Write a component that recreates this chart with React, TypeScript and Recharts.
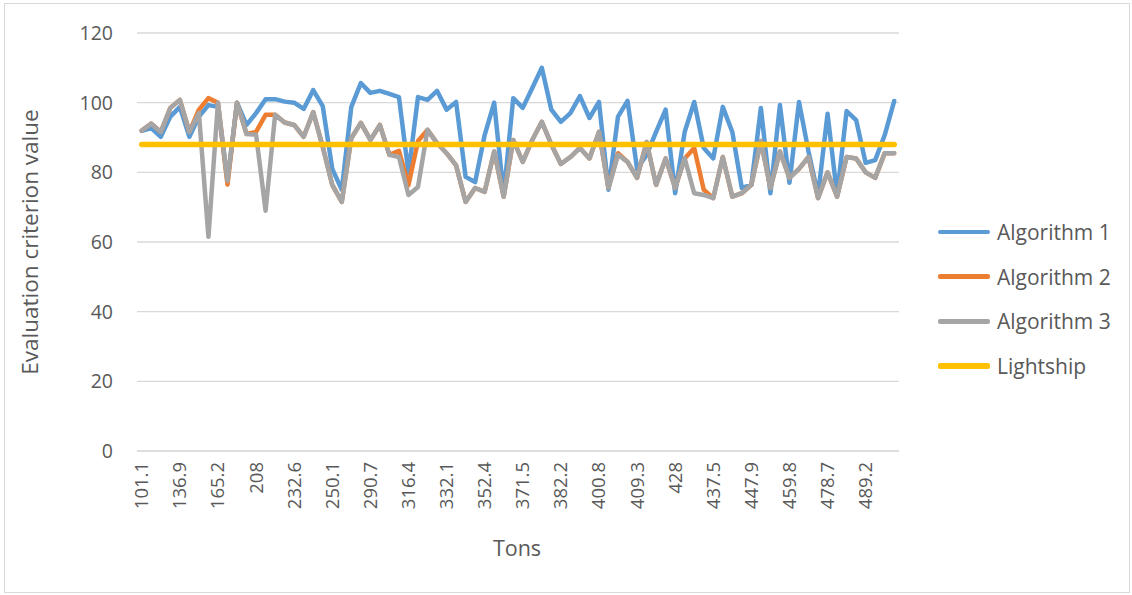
import { LineChart, Line, XAxis, YAxis, CartesianGrid } from "recharts";

// every 4th category label on the Tons axis
const tonLabels = [
  "101.1", "136.9", "165.2", "208", "232.6", "250.1", "290.7", "316.4", "332.1", "352.4",
  "371.5", "382.2", "400.8", "409.3", "428", "437.5", "447.9", "459.8", "478.7", "489.2",
];

const algorithm1 = [
  91.9, 92.7, 90.2, 96, 98.8, 90.2, 96, 99.3, 98.8, 77.5,
  100, 93.6, 97, 101, 101, 100.3, 100, 98.2, 103.6, 99,
  81, 75, 98.8, 105.6, 102.8, 103.4, 102.5, 101.6, 79.8, 101.6,
  100.8, 103.4, 98, 100.2, 78.7, 77.2, 90.7, 100, 73.5, 101.3,
  98.5, 104.2, 110, 98, 94.5, 97, 101.9, 95.6, 100.2, 75,
  96, 100.5, 81, 85, 91.6, 98, 74, 91.6, 100.2, 87,
  84, 98.8, 91.6, 75.5, 76.4, 98.5, 74, 99.3, 77, 100.2,
  86, 73.5, 96.8, 73.5, 97.6, 95, 82.7, 83.5, 90.7, 100.5,
];

const algorithm2 = [
  92, 94, 91.6, 98.5, 100.8, 91.6, 98, 101.3, 100, 76.5,
  100, 91, 91.6, 96.5, 96.5, 94.3, 93.6, 90.2, 97.3, 87.3,
  76.4, 71.5, 89.8, 94.2, 89.3, 93.6, 85, 86.2, 76.3, 89,
  92.2, 88.4, 85.5, 82, 71.5, 75.5, 74.4, 86, 73, 89.3,
  83, 89.3, 94.5, 88, 82.4, 84.4, 87, 84, 91.6, 75.5,
  85.5, 83, 78.4, 88.7, 76.4, 84, 75.5, 84, 87, 75,
  72.6, 84.4, 73, 74, 76.4, 89, 75.5, 86, 78.4, 81,
  84.4, 72.6, 80, 73, 84.4, 84, 80, 78.4, 85.5, 85.5,
];

const algorithm3 = [
  92, 94, 91.6, 98.5, 100.8, 91.6, 97, 61.5, 100, 77.5,
  100, 91, 90.8, 69, 96.5, 94.3, 93.6, 90.2, 97.3, 87.3,
  76.4, 71.5, 89.8, 94.2, 89.3, 93.6, 85, 84.4, 73.5, 75.8,
  92.2, 88.4, 85.5, 82, 71.5, 75.5, 74.4, 86, 73, 89.3,
  83, 89.3, 94.5, 88, 82.4, 84.4, 87, 84, 91.6, 75.5,
  85, 83, 78.4, 88.7, 76.4, 84, 75.5, 84, 74, 73.5,
  72.6, 84.4, 73, 74, 76.4, 89, 75.5, 86, 78.4, 81,
  84.4, 72.6, 80, 73, 84.4, 84, 80, 78.4, 85.5, 85.5,
];

const lightship = [
  88, 88, 88, 88, 88, 88, 88, 88, 88, 88,
  88, 88, 88, 88, 88, 88, 88, 88, 88, 88,
  88, 88, 88, 88, 88, 88, 88, 88, 88, 88,
  88, 88, 88, 88, 88, 88, 88, 88, 88, 88,
  88, 88, 88, 88, 88, 88, 88, 88, 88, 88,
  88, 88, 88, 88, 88, 88, 88, 88, 88, 88,
  88, 88, 88, 88, 88, 88, 88, 88, 88, 88,
  88, 88, 88, 88, 88, 88, 88, 88, 88, 88,
];

const yTicks = [0, 20, 40, 60, 80, 100, 120];

const series = [
  { key: "alg1", name: "Algorithm 1", color: "#5B9BD5", width: 4.5 },
  { key: "alg2", name: "Algorithm 2", color: "#ED7D31", width: 4.5 },
  { key: "alg3", name: "Algorithm 3", color: "#A5A5A5", width: 4.5 },
  { key: "light", name: "Lightship", color: "#FFC000", width: 5.5 },
];

const data = algorithm1.map((v, i) => ({
  idx: i,
  alg1: v,
  alg2: algorithm2[i],
  alg3: algorithm3[i],
  light: lightship[i],
}));

const FONT = "'Open Sans', sans-serif";
const TEXT = "#595959";

function TonTick(props: any) {
  const { x, y, payload } = props;
  const label = payload.value % 4 === 0 ? tonLabels[payload.value / 4] : "";
  return (
    <text
      x={x}
      y={y}
      transform={`rotate(-90, ${x}, ${y})`}
      textAnchor="end"
      dy="0.35em"
      fill={TEXT}
      fontSize={18.5}
      fontFamily={FONT}
    >
      {label}
    </text>
  );
}

export default function App() {
  return (
    <div style={{ position: "absolute", left: 0, top: 0, width: 1132, height: 595, background: "#fff", fontFamily: FONT }}>
      <div
        style={{
          position: "absolute",
          left: 4,
          top: 3,
          width: 1124,
          height: 588,
          border: "1px solid #d9d9d9",
        }}
      />
      <div style={{ position: "absolute", left: 0, top: 0 }}>
        <LineChart width={1132} height={595} data={data} margin={{ top: 33, right: 233, left: 0, bottom: 0 }}>
          <CartesianGrid vertical={false} stroke="#d9d9d9" strokeWidth={1.3} />
          <XAxis
            dataKey="idx"
            interval={3}
            height={144}
            tickSize={0}
            tickMargin={11}
            tick={<TonTick />}
            axisLine={{ stroke: "#d9d9d9" }}
            padding={{ left: 4.76, right: 4.76 }}
          />
          <YAxis
            domain={[0, 120]}
            ticks={yTicks}
            width={137}
            tickSize={0}
            tickMargin={24}
            axisLine={false}
            tick={{ fill: TEXT, fontSize: 19.5, fontFamily: FONT }}
          />
          {series.map((s) => (
            <Line
              key={s.key}
              dataKey={s.key}
              name={s.name}
              type="linear"
              stroke={s.color}
              strokeWidth={s.width}
              strokeLinecap="round"
              strokeLinejoin="round"
              dot={false}
              activeDot={false}
              isAnimationActive={false}
            />
          ))}
        </LineChart>
      </div>

      {/* axis titles */}
      <div
        style={{
          position: "absolute",
          left: 417,
          top: 534,
          width: 200,
          lineHeight: "28px",
          textAlign: "center",
          fontSize: 21.5,
          color: TEXT,
        }}
      >
        Tons
      </div>
      <div
        style={{
          position: "absolute",
          left: -170,
          top: 228,
          width: 400,
          height: 28,
          lineHeight: "28px",
          textAlign: "center",
          fontSize: 22.5,
          color: TEXT,
          transform: "rotate(-90deg)",
        }}
      >
        Evaluation criterion value
      </div>

      {/* legend */}
      {series.map((s, i) => (
        <div
          key={s.key}
          style={{ position: "absolute", left: 938, top: 218 + i * 44.7, height: 28, display: "flex", alignItems: "center" }}
        >
          <div style={{ width: 52, height: s.width, background: s.color, borderRadius: 2 }} />
          <span style={{ marginLeft: 7, fontSize: 21, color: TEXT, lineHeight: "28px" }}>{s.name}</span>
        </div>
      ))}
    </div>
  );
}
